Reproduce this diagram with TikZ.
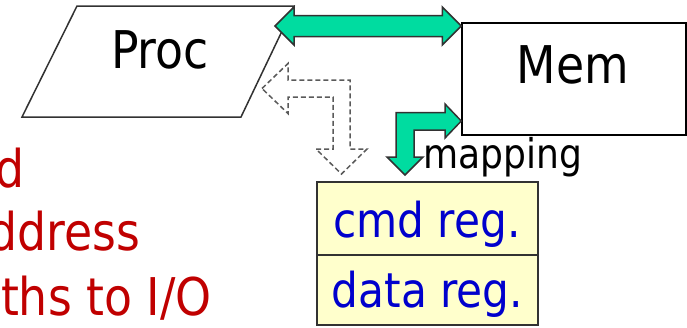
\documentclass[tikz,border=0pt]{standalone}
\usepackage{fontspec}
\setmainfont[FakeStretch=0.88]{DejaVu Sans}
\usetikzlibrary{calc}
\definecolor{busgreen}{RGB}{0,220,160}
\definecolor{regyellow}{RGB}{255,255,204}
\definecolor{notered}{RGB}{192,0,0}
\definecolor{regblue}{RGB}{0,0,204}
\definecolor{edgegray}{RGB}{50,50,50}
\definecolor{dashgray}{RGB}{90,90,90}

\begin{document}
\begin{tikzpicture}[x=1pt,y=-1pt,
  bigtext/.style={font=\fontsize{52}{60}\selectfont, inner sep=0pt, anchor=base},
  regtext/.style={font=\fontsize{48}{56}\selectfont, text=regblue, inner sep=0pt, anchor=base},
  sidetext/.style={font=\fontsize{52}{60}\selectfont, text=notered, inner sep=0pt, anchor=base east},
  unitbox/.style={draw=black, line width=1.5pt, fill=white, inner sep=0pt},
  regcell/.style={draw=edgegray, line width=2pt, fill=regyellow, inner sep=0pt, minimum width=221pt},
  greenarrow/.style={draw=edgegray, line width=1.5pt, fill=busgreen, line join=miter},
  ghostarrow/.style={draw=dashgray, line width=1.5pt, dash pattern=on 5pt off 3pt, fill=white},
]
\useasboundingbox (0,0) rectangle (687,327);

% processor (parallelogram)
\coordinate (pTL) at (77,6);
\coordinate (pTR) at (294,6);
\coordinate (pBR) at (241,117);
\coordinate (pBL) at (22,117);
\draw[draw=edgegray, line width=1.5pt, fill=white] (pTL) -- (pTR) -- (pBR) -- (pBL) -- cycle;
\node[bigtext] (proc) at (160,68) {Proc};

% memory
\node[unitbox, minimum width=224pt, minimum height=112pt] (mem) at (574,79) {};
\node[bigtext] (memlabel) at (573,83) {Mem};

% device registers
\node[regcell, minimum height=73pt] (cmd) at (427.5,218.5) {};
\node[regcell, minimum height=70pt] (data) at (427.5,290) {};
\node[regtext] (cmdlabel) at (427,237) {cmd reg.};
\node[regtext] (datalabel) at (427.5,307) {data reg.};

% processor <-> memory bus
\coordinate (busL) at (275,26);
\coordinate (busR) at (mem.west |- busL);
\draw[greenarrow] (busL) -- ++(19,-19) -- ++(0,8.5) -- ($(busR)+(-19,-10.5)$) -- ++(0,-8.5)
  -- (busR) -- ++(-19,19) -- ++(0,-8.5) -- ($(busL)+(19,10.5)$) -- ++(0,8.5) -- cycle;

% processor <-> registers (dashed, not a real path)
\coordinate (ghostL) at (262,88.5);
\coordinate (ghostD) at (341.5,174);
\draw[ghostarrow] (ghostL) -- (288,63.5) -- (288,80) -- (350,80) -- (350,149) -- (367,149)
  -- (ghostD) -- (316,149) -- (333,149) -- (333,97) -- (288,97) -- (288,113.5) -- cycle;

% memory mapping of the registers
\coordinate (mapR) at (mem.west |- 0,121);
\coordinate (mapD) at (405,175);
\draw[greenarrow] (mapR) -- (445,104) -- (445,112.5) -- (396,112.5) -- (396,157) -- (387,157)
  -- (mapD) -- (423,157) -- (414,157) -- (414,130) -- (445,130) -- (445,138) -- cycle;
\node[font=\fontsize{41}{48}\selectfont, inner sep=0pt, anchor=base west] (maplabel) at (423,168) {mapping};

% side notes
\node[sidetext] (note1) at (25,187) {d};
\node[sidetext] (note2) at (140,250) {ddress};
\node[sidetext] (note3) at (212,315) {ths to I/O};
\end{tikzpicture}
\end{document}
